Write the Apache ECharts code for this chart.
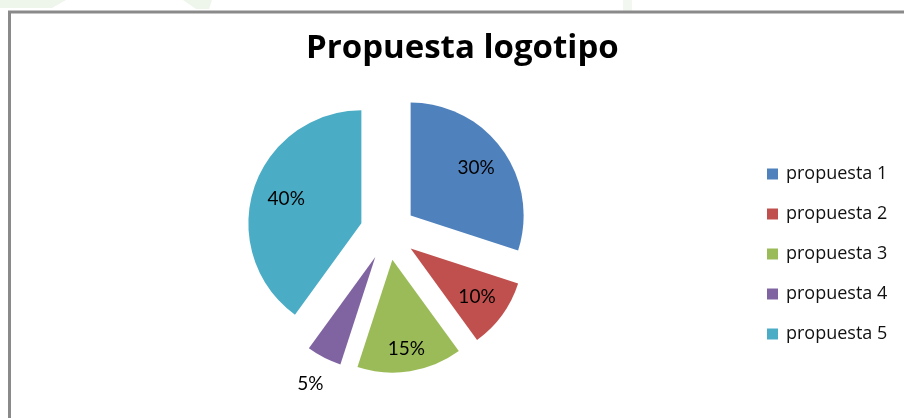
<!DOCTYPE html>
<html>
<head>
<meta charset="utf-8">
<script src="https://cdn.jsdelivr.net/npm/echarts@6/dist/echarts.min.js"></script>
<style>
  html, body { margin: 0; padding: 0; background: #fff; }
  #chart { width: 904px; height: 418px; }
</style>
</head>
<body>
<div id="chart"></div>
<script>
const categories = ['propuesta 1', 'propuesta 2', 'propuesta 3', 'propuesta 4', 'propuesta 5'];
const values = [30, 10, 15, 5, 40];
const colors = ['#4F81BD', '#C0504D', '#9BBB59', '#8064A2', '#4BACC6'];
// how far (px) from the slice tip each % label sits
const labelDist = [81, 82, 90, 143, 79];

const R = 113;
const total = values.reduce((a, b) => a + b, 0);

// mid angle of each slice (clockwise from 12 o'clock)
let cum = 0;
const midAngles = values.map(v => {
  const a = (cum + v / 2) / total * Math.PI * 2;
  cum += v;
  return a;
});

const pieData = values.map((v, i) => ({
  name: categories[i],
  value: v,
  selected: true,
  itemStyle: { color: colors[i] }
}));

const chart = echarts.init(document.getElementById('chart'));

const option = {
  animation: false,
  backgroundColor: '#fff',
  title: {
    text: 'Propuesta logotipo',
    left: 306,
    top: 32,
    padding: 0,
    textStyle: { fontFamily: 'Open Sans', fontWeight: 'bold', fontSize: 33, color: '#000' }
  },
  legend: {
    orient: 'vertical',
    left: 767,
    top: 164,
    padding: 0,
    itemWidth: 11,
    itemHeight: 11,
    itemGap: 20,
    icon: 'rect',
    selectedMode: false,
    data: categories,
    textStyle: { fontFamily: 'Open Sans', fontSize: 18, color: '#111', lineHeight: 20, padding: [0, 0, 0, 3] }
  },
  graphic: [
    // faint watermark shapes at the top
    { type: 'polygon', shape: { points: [[0, 0], [66, 0], [52, 8], [0, 8]] }, style: { fill: '#eef6ec' }, z: -1 },
    { type: 'polygon', shape: { points: [[183, 0], [212, 0], [209, 9], [196, 9]] }, style: { fill: '#eef6ec' }, z: -1 },
    { type: 'rect', shape: { x: 623, y: 0, width: 9, height: 11 }, style: { fill: '#f2f8f0' }, z: -1 },
    // chart area frame (runs off the right and bottom)
    {
      type: 'rect',
      shape: { x: 9.5, y: 12, width: 1000, height: 1000 },
      style: { fill: 'none', stroke: '#8a8a8a', lineWidth: 3 },
      z: 0
    }
  ],
  series: [
    {
      type: 'pie',
      center: [388, 232],
      radius: R,
      startAngle: 90,
      clockwise: true,
      selectedMode: 'multiple',
      selectedOffset: 28,
      avoidLabelOverlap: false,
      label: {
        show: true,
        position: 'inside',
        formatter: '{d}%',
        fontFamily: 'Lato',
        fontSize: 19,
        color: '#000',
        textBorderWidth: 0
      },
      // echarts puts inside labels at r/2 + 3 from the tip, push them out
      labelLayout: function (params) {
        const i = params.dataIndex;
        const extra = labelDist[i] - (R / 2 + 3);
        return {
          dx: Math.sin(midAngles[i]) * extra,
          dy: -Math.cos(midAngles[i]) * extra
        };
      },
      labelLine: { show: false },
      emphasis: { disabled: true },
      data: pieData
    }
  ]
};

chart.setOption(option);
</script>
</body>
</html>
